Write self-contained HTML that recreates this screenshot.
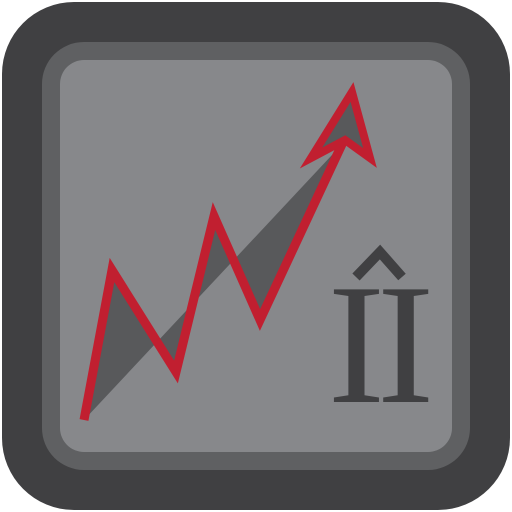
<!DOCTYPE html>
<html><head><style>html,body{margin:0;padding:0;background:#fff}svg{display:block}</style></head>
<body>
<svg width="512" height="512" viewBox="0 0 512 512">
  <rect x="2" y="2" width="508" height="508" rx="72" fill="#404042"/>
  <rect x="42" y="42" width="428" height="428" rx="42" fill="#5f6062"/>
  <rect x="60" y="60" width="392" height="392" rx="24" fill="#87888b"/>
  <polygon points="84,420 112,270 176,372 214,216 260,320 346,140" fill="#58595b"/>
  <polyline points="84,420 112,270 176,372 214,216 260,320 344,140" fill="none" stroke="#c11f30" stroke-width="9" stroke-linejoin="miter"/>
  <polygon points="352,92 311,158 345,140 370,158" fill="#58595b" stroke="#c11f30" stroke-width="8" stroke-linejoin="miter"/>
  <polyline points="356,277 380,252 402,277" fill="none" stroke="#404042" stroke-width="10"/>
  <text x="377" y="402" text-anchor="middle" font-family="Liberation Serif, serif" font-size="172" fill="#404042" letter-spacing="-8">II</text>
</svg>
</body></html>
